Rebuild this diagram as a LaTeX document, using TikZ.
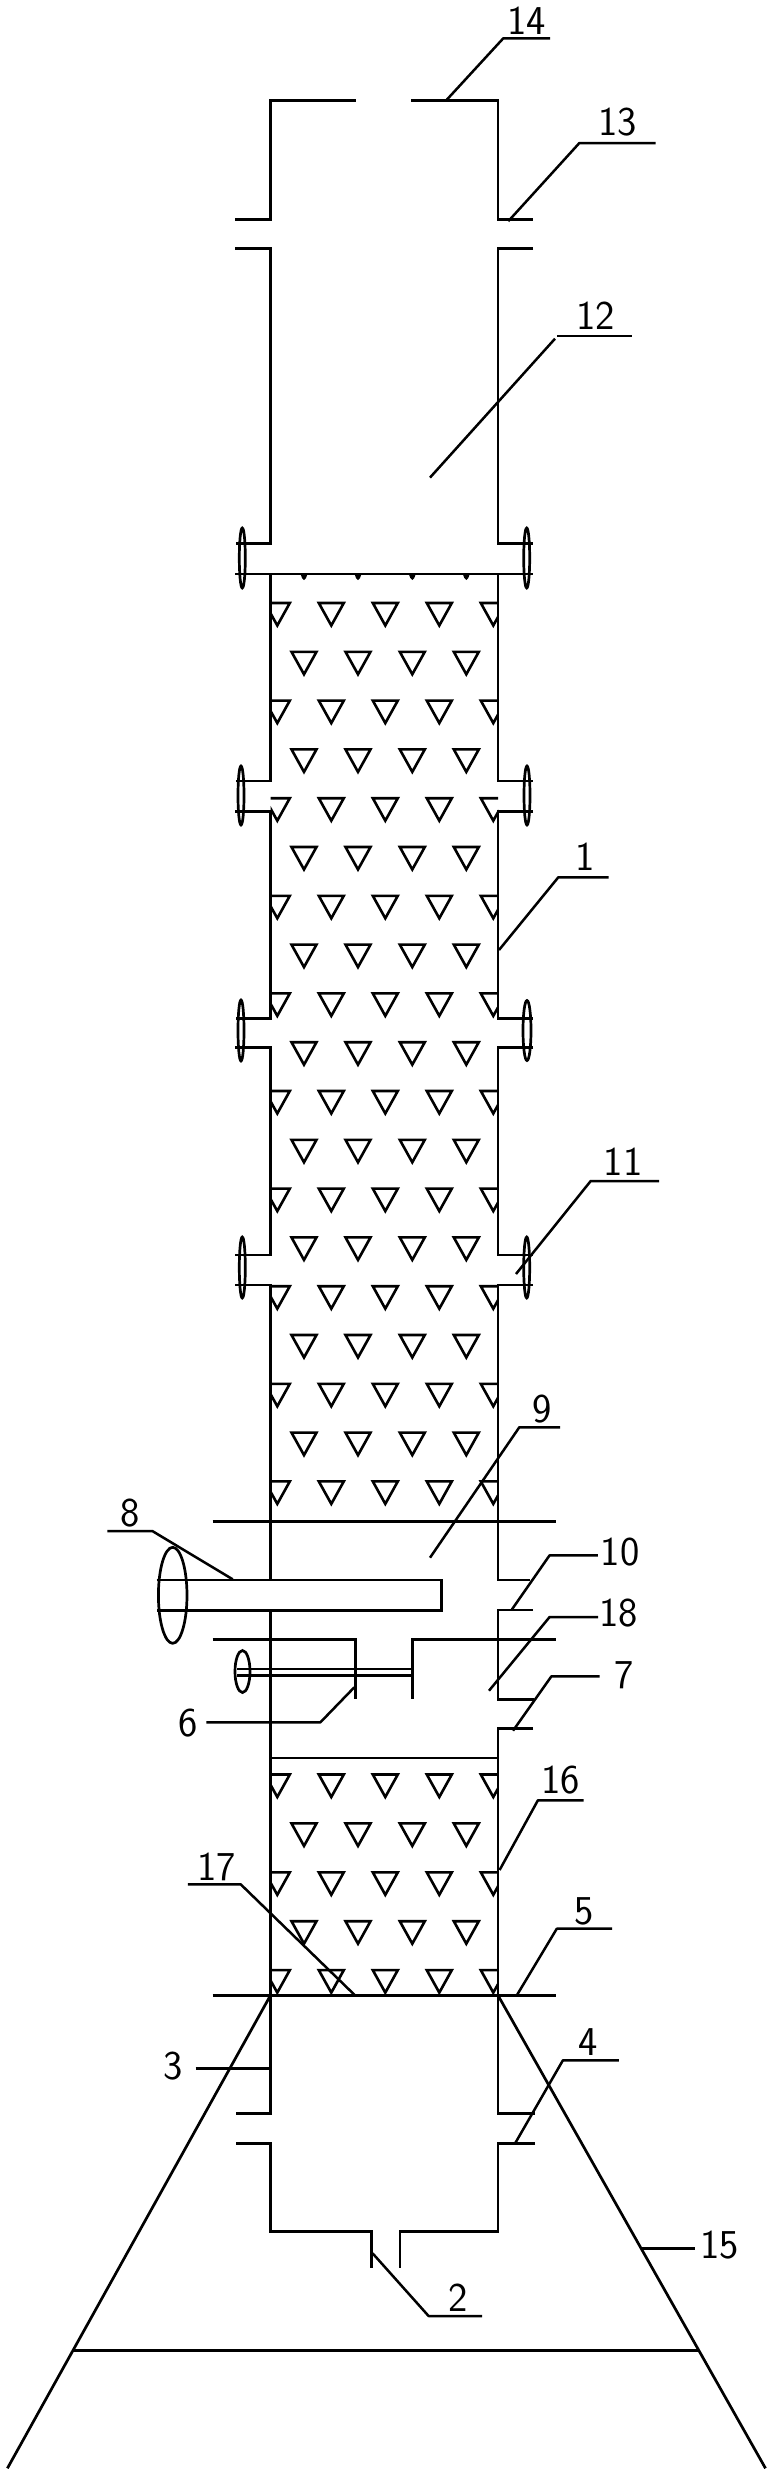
\documentclass[tikz,border=0pt]{standalone}
\tikzset{
  wall/.style={draw=black,line width=2.7pt,line cap=butt,line join=miter},
  leader/.style={draw=black,line width=2.5pt,line join=round},
  lbl/.style={inner sep=0pt,font=\fontsize{41}{41}\selectfont\sffamily},
  tri/.style={draw=black,line width=2.6pt,line join=miter,miter limit=10},
  boltring/.style={draw=black,line width=2.7pt},
}
\newcommand{\tria}[2]{\draw[tri] (#1-12.5,#2) -- (#1+12.5,#2) -- (#1,#2+22.5) -- cycle;}
\begin{document}
\begin{tikzpicture}[x=1pt,y=-1pt]
\useasboundingbox (0,0) rectangle (773,2481);
% packing rows (clipped by the shell walls)
\begin{scope}
\clip (270.5,574) rectangle (498,1998);
\foreach \n in {0,2,...,18}{
  \foreach \c in {277.3,331.3,385.3,439.3,493.3}{\tria{\c}{603+48.8*\n}}
}
\foreach \n in {1,3,...,17}{
  \foreach \c in {304,358,412.3,466.3}{\tria{\c}{603+48.8*\n}}
}
\foreach \n in {0,2,4}{
  \foreach \c in {277.3,331.3,385.3,439.3,493.3}{\tria{\c}{1774.5+48.9*\n}}
}
\foreach \n in {1,3}{
  \foreach \c in {304,358,412.3,466.3}{\tria{\c}{1774.5+48.9*\n}}
}
\end{scope}
% tips under the top plate
\foreach \c in {304,358,412.3,466.3}{
  \fill (\c-3.5,574) -- (\c+3.5,574) -- (\c+2,578) -- (\c,580) -- (\c-2,578) -- cycle;
}
% top cap
\draw[wall] (235,219.3) -- (270.5,219.3) -- (270.5,100.6) -- (355.7,100.6);
\draw[wall] (411,100.6) -- (498,100.6) -- (498,219.3) -- (533,219.3);
\draw[wall] (235,248.4) -- (270.5,248.4) -- (270.5,543.8) -- (236,543.8);
\draw[wall] (533,248.4) -- (498,248.4) -- (498,543.8) -- (533,543.8);
\draw[wall] (235,574) -- (533,574);
% shell left
\draw[wall] (270.5,574) -- (270.5,781) -- (236,781);
\draw[wall] (235,811.7) -- (270.5,811.7) -- (270.5,1018.3) -- (236,1018.3);
\draw[wall] (235,1047.3) -- (270.5,1047.3) -- (270.5,1255) -- (235,1255);
\draw[wall] (235,1285) -- (270.5,1285) -- (270.5,1580);
\draw[wall] (270.5,1610) -- (270.5,2113.3) -- (236.4,2113.3);
\draw[wall] (236.4,2143.3) -- (270.5,2143.3) -- (270.5,2231.7) -- (371.6,2231.7) -- (371.6,2268.3);
% shell right
\draw[wall] (498,574) -- (498,781) -- (533,781);
\draw[wall] (533,811.7) -- (498,811.7) -- (498,1018.3) -- (533,1018.3);
\draw[wall] (533,1047.3) -- (498,1047.3) -- (498,1255) -- (533,1255);
\draw[wall] (533,1285) -- (498,1285) -- (498,1580) -- (530,1580);
\draw[wall] (533,1610) -- (498,1610) -- (498,1699.3) -- (533.6,1699.3);
\draw[wall] (533,1728.3) -- (498,1728.3) -- (498,2113.3) -- (535,2113.3);
\draw[wall] (535,2143.3) -- (498,2143.3) -- (498,2231.7) -- (399.9,2231.7) -- (399.9,2268.3);
% bolts
\foreach \bx/\by/\bry in {242.3/558/30,241/795.5/29.5,241/1030.5/30.5,242.3/1267.5/30.5,526.7/558/30,527/795.5/29.5,526.7/1267.5/30.5}{
  \draw[boltring] (\bx,\by) ellipse [x radius=3,y radius=\bry];
}
\draw[boltring] (527,1030.5) ellipse [x radius=4,y radius=30];
% horizontal plates
\draw[wall] (212.7,1521.3) -- (555.7,1521.3);
\draw[wall] (270.5,1758) -- (498,1758);
\draw[wall] (212.7,1995.3) -- (555.7,1995.3);
% pipe 8
\draw[wall] (156.7,1580) -- (441.8,1580) -- (441.8,1610.3) -- (156.7,1610.3);
\draw[boltring] (172.7,1595.3) ellipse [x radius=14.3,y radius=48];
% plate 18
\draw[wall] (212.5,1639.3) -- (355.7,1639.3) -- (355.7,1699.3);
\draw[wall] (555.7,1639.3) -- (412.5,1639.3) -- (412.5,1699.3);
% small pipe 6
\draw[wall,line width=2.2pt] (237,1669) -- (412.5,1669);
\draw[wall,line width=2.2pt] (237,1675.5) -- (412.5,1675.5);
\draw[boltring] (242.5,1671.5) ellipse [x radius=7.5,y radius=21];
% stand 15
\draw[wall] (270.5,1995.3) -- (7.4,2468.3);
\draw[wall] (498,1995.3) -- (765.5,2468.3);
\draw[wall] (73.8,2350.3) -- (698.7,2350.3);
% labels
\node[lbl] (n1) at (585.3,857) {1};
\node[lbl] (n2) at (458.3,2298) {2};
\node[lbl] (n3) at (173.4,2066) {3};
\node[lbl] (n4) at (588,2041.7) {4};
\node[lbl] (n5) at (584.6,1911.7) {5};
\node[lbl] (n6) at (188,1722.7) {6};
\node[lbl] (n7) at (624.6,1675) {7};
\node[lbl] (n8) at (130,1512.7) {8};
\node[lbl] (n9) at (541.7,1409) {9};
\node[lbl] (n10) at (620,1552) {10};
\node[lbl] (n11) at (623,1161.7) {11};
\node[lbl] (n12) at (595.7,316) {12};
\node[lbl] (n13) at (617.3,121.7) {13};
\node[lbl] (n14) at (526.7,21) {14};
\node[lbl] (n15) at (719.5,2245) {15};
\node[lbl] (n16) at (560.4,1780) {16};
\node[lbl] (n17) at (216.8,1867) {17};
\node[lbl] (n18) at (618.6,1613) {18};
% leaders
\draw[leader] (499,950) -- (558.3,877.3) -- (608.7,877.3);
\draw[leader] (372.6,2253.3) -- (428.6,2316) -- (482,2316);
\draw[leader] (195.7,2068.3) -- (270.5,2068.3);
\draw[leader] (515.3,2143) -- (562.9,2060.3) -- (618.9,2060.3);
\draw[leader] (516.8,1995.3) -- (556.8,1928.7) -- (612,1928.7);
\draw[leader] (206.4,1722.3) -- (320.4,1722.3) -- (354.3,1687.3);
\draw[leader] (513,1730.7) -- (551.4,1676.3) -- (599.6,1676.3);
\draw[leader] (107.3,1531) -- (152.3,1531) -- (232.7,1579.3);
\draw[leader] (430,1557.7) -- (519.3,1427.3) -- (560,1427.3);
\draw[leader] (512,1609.3) -- (549.6,1555.3) -- (597.9,1555.3);
\draw[leader] (516,1274) -- (590.7,1181) -- (659,1181);
\draw[leader] (430,477.6) -- (555,338.7);
\draw[leader] (557.3,336) -- (631.7,336);
\draw[leader] (508.3,221.2) -- (579.3,143.1) -- (655.7,143.1);
\draw[leader] (446,100.6) -- (503.3,38.3) -- (550,38.3);
\draw[leader] (641.7,2248.3) -- (695.2,2248.3);
\draw[leader] (499.6,1870) -- (537.9,1800.3) -- (583.6,1800.3);
\draw[leader] (187.9,1884.3) -- (240.7,1884.3) -- (355,1995.3);
\draw[leader] (489,1690.7) -- (549.6,1617) -- (598,1617);
\end{tikzpicture}
\end{document}
